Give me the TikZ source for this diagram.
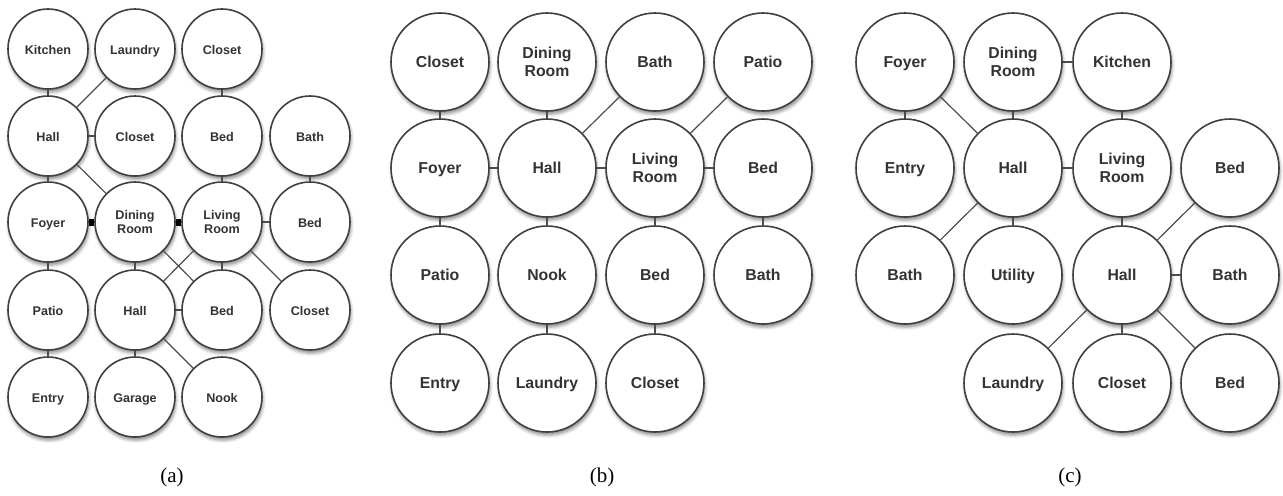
\documentclass[tikz,border=0pt]{standalone}
\usepackage{fontspec}
\setmainfont{Liberation Serif}
\setsansfont{Liberation Sans}
\usetikzlibrary{shadows.blur}

\begin{document}
\begin{tikzpicture}[x=0.5pt, y=-0.5pt,
    room/.style={circle, draw=black!75, line width=0.8pt, fill=white, align=center,
        text=black!80, font=\sffamily\bfseries\fontsize{7.9}{8.8}\selectfont,
        minimum size=49pt, inner sep=0pt, text height=1.45ex, text depth=0.35ex,
        blur shadow={shadow xshift=0.5pt, shadow yshift=-1.6pt, shadow blur radius=1.6pt, shadow opacity=45}},
    small room/.style={room, minimum size=40pt, font=\sffamily\bfseries\fontsize{6.3}{7.1}\selectfont},
    two lines/.style={text height={}, text depth={}},
    link/.style={draw=black!70, line width=0.6pt},
    door/.style={draw=black, line width=3.5pt}]
    \useasboundingbox (0,0) rectangle (1283,495);

    % Panel (a)
    \node[small room] (a-kitchen) at (48,49) {Kitchen};
    \node[small room] (a-laundry) at (135,49) {Laundry};
    \node[small room] (a-closet1) at (222,49) {Closet};
    \node[small room] (a-hall1) at (48,136) {Hall};
    \node[small room] (a-closet2) at (135,136) {Closet};
    \node[small room] (a-bed1) at (222,136) {Bed};
    \node[small room] (a-bath) at (310,136) {Bath};
    \node[small room] (a-foyer) at (48,222) {Foyer};
    \node[small room, two lines] (a-dining) at (135,222) {Dining\\Room};
    \node[small room, two lines] (a-living) at (222,222) {Living\\Room};
    \node[small room] (a-bed2) at (310,222) {Bed};
    \node[small room] (a-patio) at (48,310) {Patio};
    \node[small room] (a-hall2) at (135,310) {Hall};
    \node[small room] (a-bed3) at (222,310) {Bed};
    \node[small room] (a-closet3) at (310,310) {Closet};
    \node[small room] (a-entry) at (48,397) {Entry};
    \node[small room] (a-garage) at (135,397) {Garage};
    \node[small room] (a-nook) at (222,397) {Nook};

    \draw[link] (a-kitchen) -- (a-hall1);
    \draw[link] (a-laundry) -- (a-hall1);
    \draw[link] (a-hall1) -- (a-closet2);
    \draw[link] (a-closet1) -- (a-bed1);
    \draw[link] (a-bath) -- (a-bed2);
    \draw[link] (a-hall1) -- (a-foyer);
    \draw[link] (a-hall1) -- (a-dining);
    \draw[link] (a-bed1) -- (a-living);
    \draw[door] (a-foyer) -- (a-dining);
    \draw[door] (a-dining) -- (a-living);
    \draw[link] (a-living) -- (a-bed2);
    \draw[link] (a-foyer) -- (a-patio);
    \draw[link] (a-dining) -- (a-hall2);
    \draw[link] (a-dining) -- (a-bed3);
    \draw[link] (a-living) -- (a-hall2);
    \draw[link] (a-living) -- (a-bed3);
    \draw[link] (a-living) -- (a-closet3);
    \draw[link] (a-hall2) -- (a-bed3);
    \draw[link] (a-patio) -- (a-entry);
    \draw[link] (a-hall2) -- (a-garage);
    \draw[link] (a-hall2) -- (a-nook);
    \node (cap-a) at (172,477) {\fontsize{10.5}{12}\selectfont (a)};

    % Panel (b)
    \node[room] (b-closet1) at (440,62) {Closet};
    \node[room, two lines] (b-dining) at (547,62) {Dining\\Room};
    \node[room] (b-bath1) at (655,62) {Bath};
    \node[room] (b-patio1) at (763,62) {Patio};
    \node[room] (b-foyer) at (440,168) {Foyer};
    \node[room] (b-hall) at (547,168) {Hall};
    \node[room, two lines] (b-living) at (655,168) {Living\\Room};
    \node[room] (b-bed1) at (763,168) {Bed};
    \node[room] (b-patio2) at (440,275) {Patio};
    \node[room] (b-nook) at (547,275) {Nook};
    \node[room] (b-bed2) at (655,275) {Bed};
    \node[room] (b-bath2) at (763,275) {Bath};
    \node[room] (b-entry) at (440,383) {Entry};
    \node[room] (b-laundry) at (547,383) {Laundry};
    \node[room] (b-closet2) at (655,383) {Closet};

    \draw[link] (b-closet1) -- (b-foyer);
    \draw[link] (b-dining) -- (b-hall);
    \draw[link] (b-bath1) -- (b-hall);
    \draw[link] (b-patio1) -- (b-living);
    \draw[link] (b-foyer) -- (b-hall);
    \draw[link] (b-hall) -- (b-living);
    \draw[link] (b-living) -- (b-bed1);
    \draw[link] (b-foyer) -- (b-patio2);
    \draw[link] (b-hall) -- (b-nook);
    \draw[link] (b-living) -- (b-bed2);
    \draw[link] (b-bed1) -- (b-bath2);
    \draw[link] (b-patio2) -- (b-entry);
    \draw[link] (b-nook) -- (b-laundry);
    \draw[link] (b-bed2) -- (b-closet2);
    \node (cap-b) at (602,477) {\fontsize{10.5}{12}\selectfont (b)};

    % Panel (c)
    \node[room] (c-foyer) at (905,62) {Foyer};
    \node[room, two lines] (c-dining) at (1013,62) {Dining\\Room};
    \node[room] (c-kitchen) at (1122,62) {Kitchen};
    \node[room] (c-entry) at (905,168) {Entry};
    \node[room] (c-hall1) at (1013,168) {Hall};
    \node[room, two lines] (c-living) at (1122,168) {Living\\Room};
    \node[room] (c-bed1) at (1230,168) {Bed};
    \node[room] (c-bath1) at (905,275) {Bath};
    \node[room] (c-utility) at (1013,275) {Utility};
    \node[room] (c-hall2) at (1122,275) {Hall};
    \node[room] (c-bath2) at (1230,275) {Bath};
    \node[room] (c-laundry) at (1013,383) {Laundry};
    \node[room] (c-closet) at (1122,383) {Closet};
    \node[room] (c-bed2) at (1230,383) {Bed};

    \draw[link] (c-foyer) -- (c-entry);
    \draw[link] (c-foyer) -- (c-hall1);
    \draw[link] (c-dining) -- (c-hall1);
    \draw[link] (c-dining) -- (c-kitchen);
    \draw[link] (c-kitchen) -- (c-living);
    \draw[link] (c-hall1) -- (c-living);
    \draw[link] (c-hall1) -- (c-bath1);
    \draw[link] (c-hall1) -- (c-utility);
    \draw[link] (c-living) -- (c-hall2);
    \draw[link] (c-bed1) -- (c-hall2);
    \draw[link] (c-hall2) -- (c-bath2);
    \draw[link] (c-hall2) -- (c-laundry);
    \draw[link] (c-hall2) -- (c-closet);
    \draw[link] (c-hall2) -- (c-bed2);
    \node (cap-c) at (1070,477) {\fontsize{10.5}{12}\selectfont (c)};
\end{tikzpicture}
\end{document}
